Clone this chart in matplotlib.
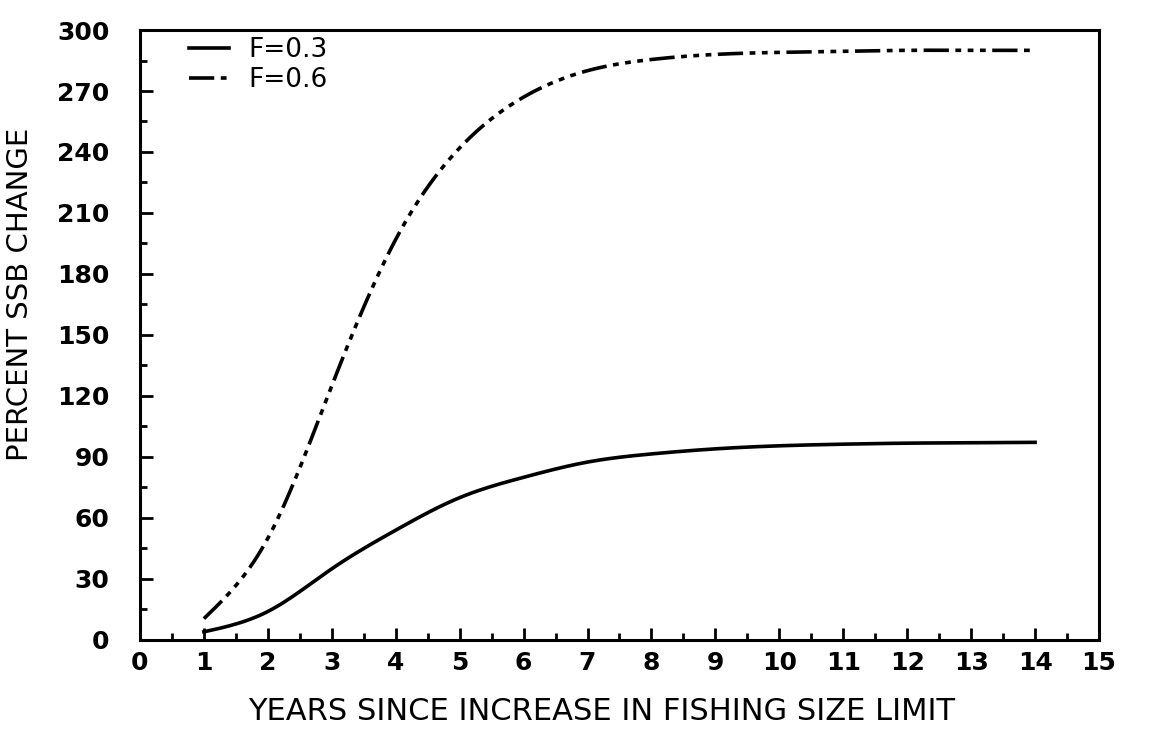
import matplotlib
matplotlib.use("Agg")
import matplotlib.pyplot as plt
from matplotlib.ticker import MultipleLocator
import numpy as np

years = [1, 2, 3, 4, 5, 6, 7, 8, 9, 10, 11, 12, 13, 14]
f03 = [4, 14, 35, 54, 70, 80, 87.5, 91.5, 94, 95.5, 96.3, 96.8, 97, 97.2]
f06 = [10.5, 50, 125, 197, 242, 267, 280, 285.5, 288, 289, 289.5, 290, 290, 290]
labels = ["F=0.3", "F=0.6"]

def smooth(x, y, n=500):
    # natural cubic spline through the read points
    x = np.asarray(x, float); y = np.asarray(y, float)
    k = len(x); h = np.diff(x)
    A = np.zeros((k, k)); b = np.zeros(k)
    A[0, 0] = A[-1, -1] = 1
    for i in range(1, k - 1):
        A[i, i-1] = h[i-1]; A[i, i] = 2*(h[i-1] + h[i]); A[i, i+1] = h[i]
        b[i] = 6*((y[i+1]-y[i])/h[i] - (y[i]-y[i-1])/h[i-1])
    M = np.linalg.solve(A, b)
    xs = np.linspace(x[0], x[-1], n)
    idx = np.clip(np.searchsorted(x, xs) - 1, 0, k - 2)
    x0, x1 = x[idx], x[idx+1]; hh = h[idx]
    ys = (M[idx]*(x1-xs)**3 + M[idx+1]*(xs-x0)**3)/(6*hh) \
        + (y[idx]/hh - M[idx]*hh/6)*(x1-xs) + (y[idx+1]/hh - M[idx+1]*hh/6)*(xs-x0)
    return xs, ys

fig = plt.figure(figsize=(11.49, 7.39), dpi=100)
ax = fig.add_axes([0.1218, 0.134, 0.8347, 0.8254])

x1, y1 = smooth(years, f03)
x2, y2 = smooth(years, f06)
ax.plot(x1, y1, color="black", lw=2.6, label=labels[0])
ax.plot(x2, y2, color="black", lw=2.6, dashes=(7, 1.8, 1.6, 1.8, 1.6, 1.8, 1.6, 1.8), label=labels[1])

ax.set_xlim(0, 15)
ax.set_ylim(0, 300)
ax.xaxis.set_major_locator(MultipleLocator(1))
ax.xaxis.set_minor_locator(MultipleLocator(0.5))
ax.yaxis.set_major_locator(MultipleLocator(30))
ax.yaxis.set_minor_locator(MultipleLocator(15))
ax.tick_params(which="major", direction="in", length=9, width=2)
ax.tick_params(which="minor", direction="in", length=5, width=2)
ax.tick_params(axis="x", which="major", pad=8)
ax.tick_params(axis="y", which="major", pad=22)
for s in ax.spines.values():
    s.set_linewidth(2.2)

for lab in ax.get_xticklabels() + ax.get_yticklabels():
    lab.set_fontsize(18)
    lab.set_fontweight("bold")
    lab.set_family("DejaVu Sans")

ax.set_xlabel("YEARS SINCE INCREASE IN FISHING SIZE LIMIT", fontsize=22)
ax.set_ylabel("PERCENT SSB CHANGE", fontsize=21)
ax.xaxis.set_label_coords(0.481, -0.093)
ax.yaxis.set_label_coords(-0.1105, 0.566)

leg = ax.legend(loc="upper left", frameon=False, fontsize=19, handlelength=1.5,
                handletextpad=0.75, labelspacing=0.15, borderaxespad=0.3,
                bbox_to_anchor=(0.032, 1.018))

fig.savefig("out.png", dpi=100)
